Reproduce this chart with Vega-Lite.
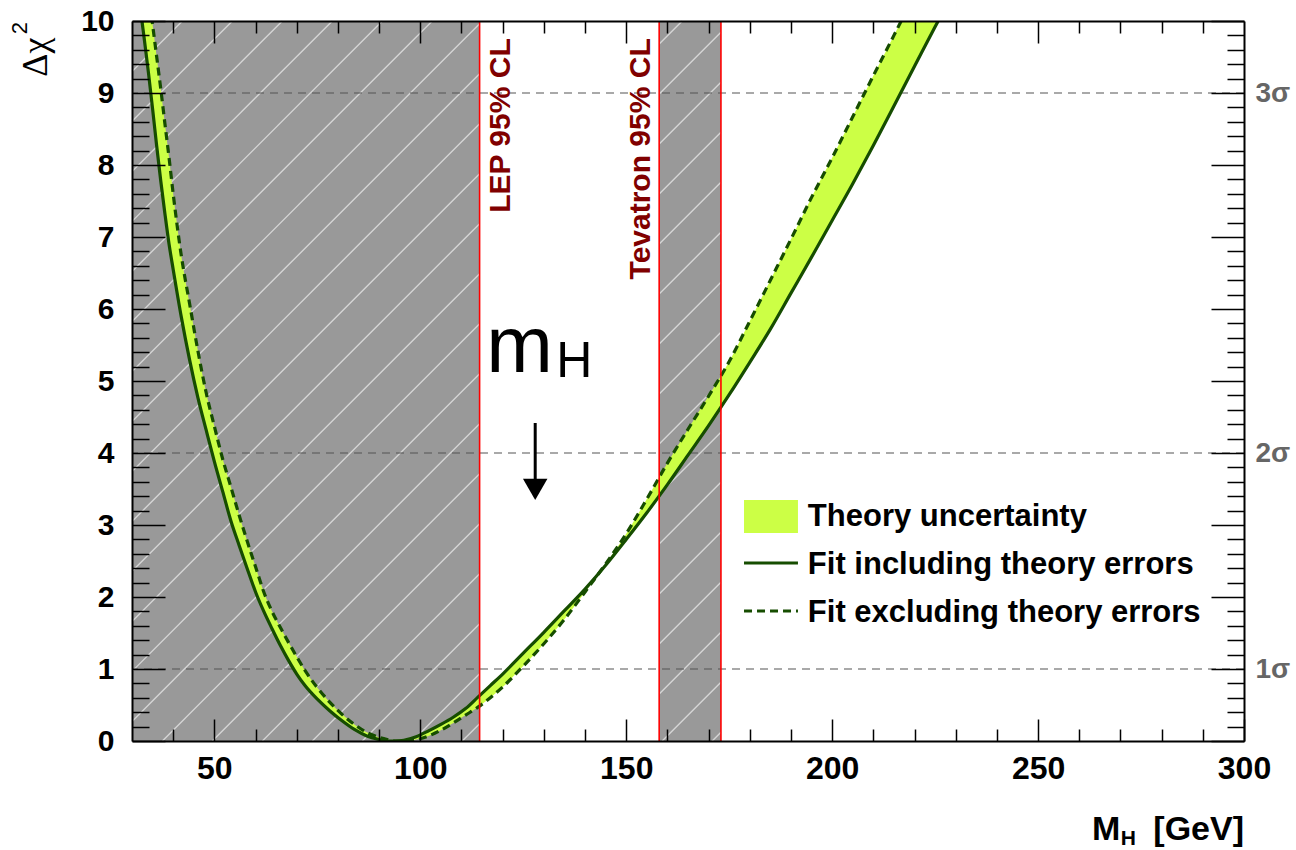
{
  "$schema": "https://vega.github.io/schema/vega-lite/v6.json",
  "width": 1112,
  "height": 720,
  "autosize": "none",
  "padding": {"left": 132, "top": 21, "right": 52, "bottom": 109},
  "background": "white",
  "config": {"view": {"stroke": null}, "font": "Liberation Sans"},
  "datasets": {
    "curve": [
      {"m":30,"fit":11.3,"nofit":12.4},{"m":31,"fit":10.75,"nofit":11.9},{"m":32,"fit":10.2,"nofit":11.4},
      {"m":33,"fit":9.74,"nofit":10.9},{"m":34,"fit":9.28,"nofit":10.4},{"m":35,"fit":8.78,"nofit":9.95},
      {"m":36,"fit":8.26,"nofit":9.5},{"m":37,"fit":7.77,"nofit":9.05},{"m":38,"fit":7.32,"nofit":8.57},
      {"m":39,"fit":6.9,"nofit":8.1},{"m":40,"fit":6.55,"nofit":7.6},{"m":42,"fit":5.88,"nofit":6.73},
      {"m":44,"fit":5.29,"nofit":6.07},{"m":46,"fit":4.77,"nofit":5.42},{"m":48,"fit":4.32,"nofit":4.84},
      {"m":50,"fit":3.88,"nofit":4.37},{"m":52,"fit":3.47,"nofit":3.92},{"m":54,"fit":3.06,"nofit":3.53},
      {"m":56,"fit":2.72,"nofit":3.14},{"m":58,"fit":2.39,"nofit":2.77},{"m":60,"fit":2.07,"nofit":2.42},
      {"m":62,"fit":1.8,"nofit":2.07},{"m":64,"fit":1.56,"nofit":1.8},{"m":66,"fit":1.33,"nofit":1.58},
      {"m":68,"fit":1.12,"nofit":1.37},{"m":70,"fit":0.93,"nofit":1.17},{"m":72,"fit":0.77,"nofit":0.98},
      {"m":75,"fit":0.58,"nofit":0.74},{"m":78,"fit":0.42,"nofit":0.54},{"m":81,"fit":0.28,"nofit":0.37},
      {"m":84,"fit":0.16,"nofit":0.23},{"m":87,"fit":0.07,"nofit":0.12},{"m":90,"fit":0.02,"nofit":0.05},
      {"m":92,"fit":0,"nofit":0.02},{"m":94,"fit":0,"nofit":0},{"m":96,"fit":0.01,"nofit":0},
      {"m":99,"fit":0.06,"nofit":0.02},{"m":102,"fit":0.14,"nofit":0.07},{"m":105,"fit":0.23,"nofit":0.15},
      {"m":108,"fit":0.33,"nofit":0.25},{"m":111,"fit":0.45,"nofit":0.36},{"m":114,"fit":0.61,"nofit":0.47},
      {"m":117,"fit":0.77,"nofit":0.6},{"m":120,"fit":0.93,"nofit":0.75},{"m":125,"fit":1.22,"nofit":1.04},
      {"m":130,"fit":1.51,"nofit":1.35},{"m":135,"fit":1.81,"nofit":1.69},{"m":140,"fit":2.11,"nofit":2.07},
      {"m":145,"fit":2.44,"nofit":2.46},{"m":150,"fit":2.8,"nofit":2.88},{"m":155,"fit":3.17,"nofit":3.36},
      {"m":160,"fit":3.56,"nofit":3.86},{"m":165,"fit":3.97,"nofit":4.33},{"m":170,"fit":4.38,"nofit":4.79},
      {"m":175,"fit":4.81,"nofit":5.27},{"m":180,"fit":5.26,"nofit":5.83},{"m":185,"fit":5.72,"nofit":6.4},
      {"m":190,"fit":6.22,"nofit":6.97},{"m":195,"fit":6.72,"nofit":7.55},{"m":200,"fit":7.23,"nofit":8.1},
      {"m":205,"fit":7.74,"nofit":8.67},{"m":210,"fit":8.27,"nofit":9.24},{"m":215,"fit":8.82,"nofit":9.8},
      {"m":220,"fit":9.37,"nofit":10.37},{"m":225,"fit":9.92,"nofit":10.95},{"m":230,"fit":10.45,"nofit":11.5}
    ],
    "regions": [{"lo":30,"hi":114.4},{"lo":158,"hi":173}],
    "limits": [{"m":114.4},{"m":158},{"m":173}],
    "sigma": [{"d":1},{"d":4},{"d":9}],
    "hatch": [
      {"x":30,"y":9.30,"x2":42.23,"y2":10},{"x":30,"y":8.606,"x2":54.37,"y2":10},
      {"x":30,"y":7.911,"x2":66.5,"y2":10},{"x":30,"y":7.217,"x2":78.64,"y2":10},
      {"x":30,"y":6.522,"x2":90.78,"y2":10},{"x":30,"y":5.828,"x2":102.91,"y2":10},
      {"x":30,"y":5.133,"x2":114.4,"y2":9.963},{"x":30,"y":4.439,"x2":114.4,"y2":9.268},
      {"x":30,"y":3.744,"x2":114.4,"y2":8.574},{"x":30,"y":3.05,"x2":114.4,"y2":7.88},
      {"x":30,"y":2.356,"x2":114.4,"y2":7.185},{"x":30,"y":1.661,"x2":114.4,"y2":6.491},
      {"x":30,"y":0.967,"x2":114.4,"y2":5.796},{"x":30,"y":0.272,"x2":114.4,"y2":5.102},
      {"x":37.38,"y":0,"x2":114.4,"y2":4.407},{"x":49.51,"y":0,"x2":114.4,"y2":3.713},
      {"x":61.65,"y":0,"x2":114.4,"y2":3.018},{"x":73.79,"y":0,"x2":114.4,"y2":2.324},
      {"x":85.92,"y":0,"x2":114.4,"y2":1.63},{"x":98.06,"y":0,"x2":114.4,"y2":0.935},
      {"x":110.19,"y":0,"x2":114.4,"y2":0.241},
      {"x":158,"y":9.68,"x2":163.59,"y2":10},{"x":158,"y":8.986,"x2":173,"y2":9.844},
      {"x":158,"y":8.291,"x2":173,"y2":9.149},{"x":158,"y":7.597,"x2":173,"y2":8.455},
      {"x":158,"y":6.902,"x2":173,"y2":7.761},{"x":158,"y":6.208,"x2":173,"y2":7.066},
      {"x":158,"y":5.513,"x2":173,"y2":6.372},{"x":158,"y":4.819,"x2":173,"y2":5.677},
      {"x":158,"y":4.124,"x2":173,"y2":4.983},{"x":158,"y":3.43,"x2":173,"y2":4.288},
      {"x":158,"y":2.736,"x2":173,"y2":3.594},{"x":158,"y":2.041,"x2":173,"y2":2.899},
      {"x":158,"y":1.347,"x2":173,"y2":2.205},{"x":158,"y":0.652,"x2":173,"y2":1.511},
      {"x":158.74,"y":0,"x2":173,"y2":0.816},{"x":170.87,"y":0,"x2":173,"y2":0.122}
    ]
  },
  "resolve": {"axis": {"x": "independent", "y": "independent"}},
  "layer": [
    {
      "data": {"name": "regions"},
      "mark": {"type": "rect", "color": "#999999"},
      "encoding": {
        "x": {"field": "lo", "type": "quantitative", "scale": {"domain": [30, 300], "nice": false, "zero": false},
          "axis": {"orient": "bottom", "values": [40,50,60,70,80,90,100,110,120,130,140,150,160,170,180,190,200,210,220,230,240,250,260,270,280,290,300],
            "tickSize": {"condition": {"test": "datum.value % 50 === 0", "value": -22}, "value": -12},
            "labelExpr": "datum.value % 50 === 0 ? format(datum.value, 'd') : ''",
            "labelPadding": 34, "labelFont": "Liberation Sans", "labelFontWeight": "bold", "labelFontSize": 32,
            "labelColor": "black", "labelFlush": false, "labelOverlap": false, "labelBound": false,
            "tickColor": "black", "tickWidth": 1.5, "domainColor": "black", "domainWidth": 2,
            "grid": false, "title": null, "zindex": 1}},
        "x2": {"field": "hi"},
        "y": {"datum": 0, "type": "quantitative", "scale": {"domain": [0, 10], "nice": false, "zero": false},
          "axis": {"orient": "left", "values": [0,0.2,0.4,0.6,0.8,1,1.2,1.4,1.6,1.8,2,2.2,2.4,2.6,2.8,3,3.2,3.4,3.6,3.8,4,4.2,4.4,4.6,4.8,5,5.2,5.4,5.6,5.8,6,6.2,6.4,6.6,6.8,7,7.2,7.4,7.6,7.8,8,8.2,8.4,8.6,8.8,9,9.2,9.4,9.6,9.8,10],
            "tickSize": {"condition": {"test": "datum.value % 1 === 0", "value": -33}, "value": -17},
            "labelExpr": "datum.value % 1 === 0 ? format(datum.value, 'd') : ''",
            "labelPadding": 51, "labelFont": "Liberation Sans", "labelFontWeight": "bold", "labelFontSize": 30,
            "labelColor": "black", "labelOverlap": false, "labelBound": false, "labelFlush": false,
            "tickColor": "black", "tickWidth": 1.5, "domainColor": "black", "domainWidth": 2, "grid": false,
            "title": "Δχ", "titleFont": "Liberation Serif", "titleFontSize": 36, "titleFontWeight": "normal",
            "titleColor": "black", "titleAngle": -90, "titleAlign": "right", "titleBaseline": "alphabetic",
            "titleX": -86, "titleY": 16, "zindex": 1}},
        "y2": {"datum": 10}
      }
    },
    {
      "data": {"values": [{"x": 30, "y": 0}]},
      "mark": {"type": "point", "opacity": 0},
      "encoding": {
        "x": {"field": "x", "type": "quantitative",
          "axis": {"orient": "top", "values": [40,50,60,70,80,90,100,110,120,130,140,150,160,170,180,190,200,210,220,230,240,250,260,270,280,290],
            "tickSize": {"condition": {"test": "datum.value % 50 === 0", "value": -22}, "value": -12},
            "labels": false, "tickColor": "black", "tickWidth": 1.5, "domainColor": "black", "domainWidth": 2,
            "grid": false, "title": null, "zindex": 1}},
        "y": {"field": "y", "type": "quantitative",
          "axis": {"orient": "right", "values": [0,0.2,0.4,0.6,0.8,1,1.2,1.4,1.6,1.8,2,2.2,2.4,2.6,2.8,3,3.2,3.4,3.6,3.8,4,4.2,4.4,4.6,4.8,5,5.2,5.4,5.6,5.8,6,6.2,6.4,6.6,6.8,7,7.2,7.4,7.6,7.8,8,8.2,8.4,8.6,8.8,9,9.2,9.4,9.6,9.8,10],
            "tickSize": {"condition": {"test": "datum.value % 1 === 0", "value": -33}, "value": -17},
            "labelExpr": "datum.value === 1 ? '1σ' : datum.value === 4 ? '2σ' : datum.value === 9 ? '3σ' : ''",
            "labelPadding": 44, "labelFont": "Liberation Sans", "labelFontWeight": "bold", "labelFontSize": 28,
            "labelColor": "#666666", "labelOverlap": false, "labelBound": false, "labelFlush": false,
            "tickColor": "black", "tickWidth": 1.5, "domainColor": "black", "domainWidth": 2, "grid": false,
            "title": null, "zindex": 1}}
      }
    },
    {
      "data": {"name": "hatch"},
      "mark": {"type": "rule", "color": "#d6d6d6", "strokeWidth": 1.4},
      "encoding": {
        "x": {"field": "x", "type": "quantitative", "axis": null},
        "y": {"field": "y", "type": "quantitative", "axis": null},
        "x2": {"field": "x2"},
        "y2": {"field": "y2"}
      }
    },
    {
      "data": {"name": "sigma"},
      "mark": {"type": "rule", "color": "#555555", "strokeWidth": 1.2, "strokeDash": [8, 6]},
      "encoding": {"y": {"field": "d", "type": "quantitative", "axis": null}}
    },
    {
      "data": {"name": "curve"},
      "mark": {"type": "area", "color": "#ccff45", "clip": true, "interpolate": "monotone"},
      "encoding": {
        "x": {"field": "m", "type": "quantitative", "axis": null},
        "y": {"field": "fit", "type": "quantitative", "axis": null},
        "y2": {"field": "nofit"}
      }
    },
    {
      "data": {"name": "curve"},
      "mark": {"type": "line", "color": "#164d00", "strokeWidth": 3.2, "clip": true, "interpolate": "monotone"},
      "encoding": {
        "x": {"field": "m", "type": "quantitative", "axis": null},
        "y": {"field": "fit", "type": "quantitative", "axis": null}
      }
    },
    {
      "data": {"name": "curve"},
      "mark": {"type": "line", "color": "#164d00", "strokeWidth": 3.2, "strokeDash": [8, 5], "clip": true, "interpolate": "monotone"},
      "encoding": {
        "x": {"field": "m", "type": "quantitative", "axis": null},
        "y": {"field": "nofit", "type": "quantitative", "axis": null}
      }
    },
    {
      "data": {"name": "limits"},
      "mark": {"type": "rule", "color": "#ff0000", "strokeWidth": 1.6},
      "encoding": {"x": {"field": "m", "type": "quantitative", "axis": null}}
    },
    {
      "data": {"values": [{}]},
      "mark": {"type": "text", "text": "LEP 95% CL", "angle": -90, "align": "right", "baseline": "alphabetic", "font": "Liberation Sans", "fontWeight": "bold", "fontSize": 30, "color": "#800000"},
      "encoding": {"x": {"datum": 121.8, "type": "quantitative", "axis": null}, "y": {"datum": 9.76, "type": "quantitative", "axis": null}}
    },
    {
      "data": {"values": [{}]},
      "mark": {"type": "text", "text": "Tevatron 95% CL", "angle": -90, "align": "right", "baseline": "alphabetic", "font": "Liberation Sans", "fontWeight": "bold", "fontSize": 30, "color": "#800000"},
      "encoding": {"x": {"datum": 155.8, "type": "quantitative", "axis": null}, "y": {"datum": 9.76, "type": "quantitative", "axis": null}}
    },
    {
      "data": {"values": [{}]},
      "mark": {"type": "text", "text": "2", "angle": -90, "align": "right", "baseline": "alphabetic", "font": "Liberation Sans", "fontSize": 22, "color": "black"},
      "encoding": {"x": {"datum": 4.61, "type": "quantitative", "axis": null}, "y": {"datum": 9.986, "type": "quantitative", "axis": null}}
    },
    {
      "data": {"values": [{}]},
      "mark": {"type": "text", "text": "m", "align": "left", "baseline": "alphabetic", "font": "Liberation Sans", "fontSize": 80, "color": "black"},
      "encoding": {"x": {"datum": 116.0, "type": "quantitative", "axis": null}, "y": {"datum": 5.125, "type": "quantitative", "axis": null}}
    },
    {
      "data": {"values": [{}]},
      "mark": {"type": "text", "text": "H", "align": "left", "baseline": "alphabetic", "font": "Liberation Sans", "fontSize": 50, "color": "black"},
      "encoding": {"x": {"datum": 133.0, "type": "quantitative", "axis": null}, "y": {"datum": 5.056, "type": "quantitative", "axis": null}}
    },
    {
      "data": {"values": [{}]},
      "mark": {"type": "rule", "color": "black", "strokeWidth": 3},
      "encoding": {"x": {"datum": 127.9, "type": "quantitative", "axis": null}, "y": {"datum": 4.417, "type": "quantitative", "axis": null}, "y2": {"datum": 3.6}}
    },
    {
      "data": {"values": [{}]},
      "mark": {"type": "point", "shape": "triangle-down", "filled": true, "size": 600, "color": "black", "opacity": 1},
      "encoding": {"x": {"datum": 127.9, "type": "quantitative", "axis": null}, "y": {"datum": 3.494, "type": "quantitative", "axis": null}}
    },
    {
      "data": {"values": [{}]},
      "mark": {"type": "rect", "color": "#ccff45"},
      "encoding": {"x": {"datum": 178.6, "type": "quantitative", "axis": null}, "x2": {"datum": 191.7}, "y": {"datum": 2.889, "type": "quantitative", "axis": null}, "y2": {"datum": 3.347}}
    },
    {
      "data": {"values": [{}]},
      "mark": {"type": "rule", "color": "#164d00", "strokeWidth": 3},
      "encoding": {"x": {"datum": 178.6, "type": "quantitative", "axis": null}, "x2": {"datum": 191.7}, "y": {"datum": 2.472, "type": "quantitative", "axis": null}}
    },
    {
      "data": {"values": [{}]},
      "mark": {"type": "rule", "color": "#164d00", "strokeWidth": 3, "strokeDash": [8, 5]},
      "encoding": {"x": {"datum": 178.6, "type": "quantitative", "axis": null}, "x2": {"datum": 191.7}, "y": {"datum": 1.806, "type": "quantitative", "axis": null}}
    },
    {
      "data": {"values": [{"t": "Theory uncertainty", "r": 2.986}, {"t": "Fit including theory errors", "r": 2.319}, {"t": "Fit excluding theory errors", "r": 1.653}]},
      "mark": {"type": "text", "align": "left", "baseline": "alphabetic", "font": "Liberation Sans", "fontWeight": "bold", "fontSize": 31, "color": "black"},
      "encoding": {"x": {"datum": 194.1, "type": "quantitative", "axis": null}, "y": {"field": "r", "type": "quantitative", "axis": null}, "text": {"field": "t"}}
    },
    {
      "data": {"values": [{}]},
      "mark": {"type": "text", "text": "M", "align": "left", "baseline": "alphabetic", "font": "Liberation Sans", "fontWeight": "bold", "fontSize": 34, "color": "black"},
      "encoding": {"x": {"datum": 263.1, "type": "quantitative", "axis": null}, "y": {"datum": -1.375, "type": "quantitative", "axis": null}}
    },
    {
      "data": {"values": [{}]},
      "mark": {"type": "text", "text": "H", "align": "left", "baseline": "alphabetic", "font": "Liberation Sans", "fontWeight": "bold", "fontSize": 21, "color": "black"},
      "encoding": {"x": {"datum": 270.1, "type": "quantitative", "axis": null}, "y": {"datum": -1.444, "type": "quantitative", "axis": null}}
    },
    {
      "data": {"values": [{}]},
      "mark": {"type": "text", "text": "[GeV]", "align": "right", "baseline": "alphabetic", "font": "Liberation Sans", "fontWeight": "bold", "fontSize": 34, "color": "black"},
      "encoding": {"x": {"datum": 300, "type": "quantitative", "axis": null}, "y": {"datum": -1.375, "type": "quantitative", "axis": null}}
    }
  ]
}
